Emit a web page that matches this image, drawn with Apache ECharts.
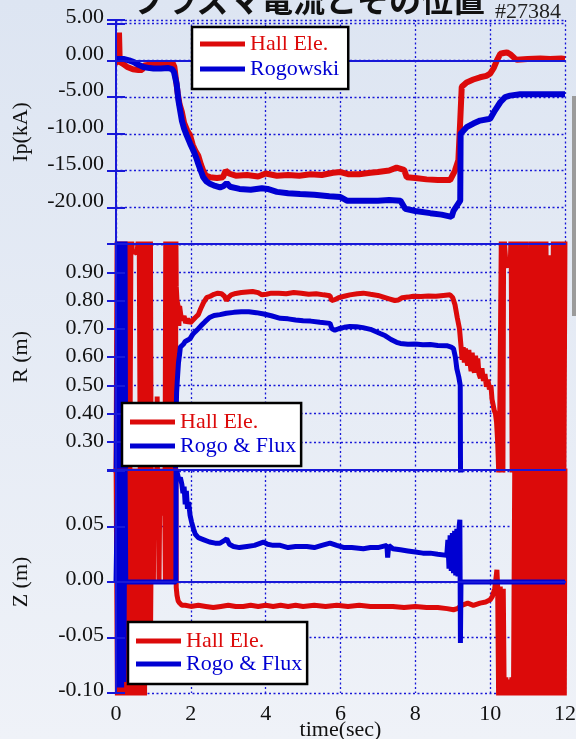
<!DOCTYPE html>
<html>
<head>
<meta charset="utf-8">
<script src="https://cdn.jsdelivr.net/npm/echarts@6/dist/echarts.min.js"></script>
<style>
  html, body { margin: 0; padding: 0; background: #e6ecf6; }
  #chart { width: 576px; height: 739px; }
</style>
</head>
<body>
<div id="chart"></div>
<script>
// ---- tick labels ----
const timeTicks = [0, 2, 4, 6, 8, 10, 12];
const ipTicks = [5, 0, -5, -10, -15, -20];
const rTicks = [0.9, 0.8, 0.7, 0.6, 0.5, 0.4, 0.3];
const zTicks = [0.05, 0, -0.05, -0.10];

// ---- plasma current Ip (kA), [time(sec), value] ----
const ipHall = [
  [0.00,-0.2],[0.06,-0.3],[0.08,3.8],[0.10,-0.2],[0.20,-0.5],[0.30,-0.9],[0.45,-1.2],[0.60,-1.3],
  [0.70,-1.3],[0.75,-0.7],[0.90,-0.6],[1.10,-0.6],[1.30,-0.5],[1.45,-0.5],[1.52,-0.4],[1.56,-0.9],
  [1.60,-2.5],[1.65,-4.5],[1.70,-6.0],[1.76,-7.0],[1.82,-8.5],[1.90,-9.5],[1.98,-10.2],[2.05,-11.5],
  [2.12,-12.3],[2.20,-13.0],[2.27,-14.2],[2.33,-15.0],[2.40,-15.7],[2.51,-15.9],[2.70,-16.0],[2.86,-15.9],
  [2.93,-15.0],[2.97,-14.8],[3.02,-15.4],[3.20,-15.7],[3.50,-15.6],[3.80,-15.8],[4.00,-15.4],[4.30,-15.7],
  [4.60,-15.6],[4.90,-15.7],[5.20,-15.5],[5.50,-15.6],[5.80,-15.3],[6.00,-15.2],[6.20,-15.5],[6.50,-15.5],
  [6.80,-15.3],[7.00,-15.2],[7.30,-15.0],[7.50,-14.6],[7.70,-14.9],[7.77,-15.9],[8.00,-16.0],[8.30,-16.2],
  [8.60,-16.3],[8.93,-16.3],[9.06,-15.0],[9.15,-13.6],[9.20,-8.2],[9.24,-3.6],[9.37,-3.0],[9.55,-2.6],
  [9.73,-2.3],[9.90,-2.1],[10.00,-1.8],[10.10,-1.0],[10.18,0.0],[10.27,0.9],[10.36,1.0],[10.45,1.1],
  [10.55,0.8],[10.65,0.3],[10.71,0.1],[11.00,0.2],[11.34,0.25],[11.60,0.2],[11.90,0.25],[12.00,0.2]
];
const ipRogowski = [
  [0.00,0.2],[0.20,0.2],[0.35,0.0],[0.46,-0.2],[0.60,-0.6],[0.73,-0.9],[0.90,-1.05],[1.00,-1.1],
  [1.20,-1.1],[1.40,-1.05],[1.50,-1.2],[1.55,-1.6],[1.62,-3.2],[1.67,-5.5],[1.72,-7.0],[1.76,-8.2],
  [1.82,-9.3],[1.89,-10.2],[1.98,-11.3],[2.07,-12.3],[2.14,-13.2],[2.20,-14.1],[2.27,-15.1],[2.33,-15.9],
  [2.42,-16.5],[2.51,-16.8],[2.65,-17.1],[2.78,-17.3],[2.88,-17.1],[2.96,-16.7],[3.05,-17.2],[3.30,-17.5],
  [3.60,-17.6],[3.90,-17.4],[4.05,-17.5],[4.30,-17.9],[4.60,-18.1],[4.92,-18.2],[5.30,-18.3],[5.70,-18.5],
  [6.00,-18.6],[6.17,-19.1],[6.60,-19.1],[7.00,-19.1],[7.30,-19.0],[7.60,-19.1],[7.73,-20.2],[8.00,-20.5],
  [8.40,-20.8],[8.70,-21.0],[8.97,-21.3],[9.02,-20.5],[9.20,-19.1],[9.21,-10.0],[9.37,-9.1],[9.55,-8.6],
  [9.73,-8.2],[10.00,-7.95],[10.13,-6.8],[10.27,-5.7],[10.40,-5.0],[10.53,-4.8],[10.80,-4.6],[12.00,-4.6]
];

// ---- major radius R (m) ----
const rHall = [
  [0.00,0.15],[0.03,1.05],[0.07,0.15],[0.11,1.05],[0.15,0.15],[0.19,1.05],[0.23,0.15],[0.27,1.05],
  [0.31,0.15],[0.34,1.05],[0.37,0.15],[0.40,1.05],
  [0.44,0.97],[0.50,0.975],[0.56,0.965],[0.62,1.05],[0.65,0.15],[0.68,1.05],[0.71,0.15],[0.74,1.05],
  [0.77,0.15],[0.80,1.05],[0.83,0.15],[0.86,1.05],[0.89,0.15],[0.92,1.05],[0.94,0.15],[0.95,0.10],
  [1.09,0.10],[1.10,0.46],[1.11,0.10],[1.31,0.10],
  [1.33,1.05],[1.36,0.15],[1.39,1.05],[1.42,0.15],[1.45,1.05],[1.48,0.15],[1.51,1.05],[1.54,0.15],
  [1.57,1.05],[1.59,0.15],[1.60,1.05],
  [1.61,0.85],[1.63,0.80],[1.66,0.78],[1.68,0.71],[1.70,0.78],[1.73,0.75],[1.77,0.73],[1.82,0.745],
  [1.86,0.72],[1.92,0.735],[1.98,0.72],[2.05,0.73],[2.12,0.74],[2.20,0.75],[2.26,0.77],[2.33,0.79],
  [2.42,0.81],[2.52,0.815],[2.62,0.822],[2.72,0.826],[2.82,0.824],[2.90,0.815],[2.95,0.80],[3.00,0.81],
  [3.08,0.82],[3.20,0.825],[3.35,0.828],[3.50,0.83],[3.65,0.832],[3.80,0.828],[3.90,0.82],[3.95,0.815],
  [4.02,0.822],[4.15,0.826],[4.35,0.826],[4.55,0.824],[4.75,0.828],[4.95,0.826],[5.15,0.822],[5.35,0.824],
  [5.55,0.82],[5.72,0.817],[5.76,0.80],[5.85,0.803],[5.95,0.81],[6.10,0.815],[6.25,0.82],[6.45,0.824],
  [6.61,0.826],[6.80,0.822],[7.00,0.818],[7.15,0.812],[7.30,0.806],[7.45,0.80],[7.55,0.802],[7.65,0.81],
  [7.80,0.812],[7.95,0.815],[8.15,0.814],[8.35,0.816],[8.55,0.815],[8.75,0.818],[8.93,0.82],[9.00,0.81],
  [9.06,0.785],[9.12,0.74],[9.18,0.70],[9.22,0.64],[9.25,0.59],[9.28,0.635],[9.31,0.58],[9.34,0.63],
  [9.37,0.59],[9.40,0.57],[9.43,0.625],[9.46,0.58],[9.49,0.55],[9.52,0.615],[9.55,0.56],[9.58,0.545],
  [9.61,0.605],[9.64,0.55],[9.67,0.595],[9.70,0.54],[9.74,0.525],[9.78,0.56],[9.82,0.515],[9.86,0.54],
  [9.90,0.495],[9.94,0.52],[9.98,0.485],[10.02,0.50],[10.05,0.45],[10.08,0.43],[10.11,0.41],[10.14,0.40],
  [10.17,0.37],[10.20,0.30],[10.24,0.15],[10.30,1.05],[10.34,0.15],[10.36,1.05],[10.42,0.93],[10.48,0.92],
  [10.54,0.935],[10.56,1.05],[10.59,0.15],[10.63,1.05],[10.67,0.15],[10.71,1.05],[10.75,0.15],[10.79,1.05],
  [10.83,0.15],[10.87,1.05],[10.91,0.15],[10.95,1.05],[10.99,0.15],[11.02,0.98],[11.05,0.15],[11.09,1.05],
  [11.13,0.15],[11.17,1.05],[11.21,0.15],[11.25,1.05],[11.29,0.15],[11.33,1.05],[11.37,0.15],[11.41,1.05],
  [11.45,0.15],[11.49,1.05],[11.53,0.15],[11.56,0.96],[11.59,0.15],[11.62,0.95],[11.65,0.15],[11.69,1.05],
  [11.73,0.15],[11.77,1.05],[11.81,0.15],[11.85,1.05],[11.89,0.15],[11.93,1.05],[11.97,0.15],[12.00,1.05]
];
const rRogoFlux = [
  [0.00,0.10],[0.05,0.10],[0.06,1.05],[0.09,0.15],[0.12,1.05],[0.15,0.15],[0.18,1.05],[0.21,0.15],
  [0.24,1.05],[0.26,0.10],[1.58,0.10],[1.61,0.42],[1.62,0.475],[1.64,0.52],[1.67,0.58],[1.70,0.61],
  [1.72,0.635],[1.76,0.64],[1.80,0.645],[1.85,0.655],[1.92,0.66],[1.98,0.665],[2.05,0.68],[2.12,0.69],
  [2.20,0.70],[2.28,0.712],[2.38,0.725],[2.50,0.74],[2.62,0.747],[2.78,0.75],[2.95,0.755],[3.15,0.758],
  [3.35,0.76],[3.55,0.76],[3.75,0.757],[3.95,0.752],[4.15,0.746],[4.39,0.737],[4.60,0.735],[4.80,0.731],
  [5.00,0.728],[5.20,0.727],[5.45,0.723],[5.72,0.719],[5.77,0.70],[5.85,0.695],[5.95,0.70],[6.10,0.705],
  [6.25,0.708],[6.43,0.707],[6.60,0.704],[6.80,0.698],[7.06,0.683],[7.20,0.675],[7.35,0.662],[7.50,0.652],
  [7.60,0.648],[7.80,0.645],[8.00,0.646],[8.20,0.643],[8.40,0.644],[8.60,0.641],[8.84,0.64],[8.96,0.635],
  [9.02,0.63],[9.07,0.60],[9.11,0.558],[9.16,0.53],[9.20,0.50],[9.21,0.10],[12.00,0.10]
];

// ---- vertical position Z (m) ----
const zHall = [
  [0.00,0.12],[0.04,-0.12],[0.08,0.12],[0.12,-0.12],[0.16,0.12],[0.20,-0.12],[0.24,0.12],[0.28,-0.12],
  [0.32,0.12],[0.36,-0.12],[0.40,0.12],[0.44,-0.12],[0.48,0.12],[0.52,-0.12],[0.56,0.12],[0.60,-0.12],
  [0.64,0.12],[0.68,-0.12],[0.72,0.12],[0.76,-0.12],[0.80,0.12],[0.84,-0.09],[0.88,0.12],[0.92,-0.06],
  [0.96,0.12],[1.00,0.0],[1.02,0.12],[1.05,0.062],[1.10,0.062],[1.12,0.12],[1.15,0.0],[1.18,0.12],
  [1.21,0.062],[1.27,0.062],[1.29,0.12],[1.32,0.0],[1.36,0.12],[1.40,0.0],[1.44,0.12],[1.48,0.0],
  [1.52,0.12],[1.56,0.0],[1.60,0.12],[1.61,-0.005],[1.63,-0.012],[1.66,-0.017],[1.70,-0.019],[1.76,-0.021],
  [1.85,-0.021],[2.00,-0.022],[2.20,-0.021],[2.40,-0.022],[2.60,-0.023],[2.80,-0.022],[3.00,-0.021],[3.20,-0.022],
  [3.40,-0.022],[3.60,-0.021],[3.80,-0.022],[4.00,-0.021],[4.20,-0.022],[4.40,-0.021],[4.60,-0.022],[4.80,-0.021],
  [5.00,-0.022],[5.30,-0.021],[5.60,-0.022],[5.90,-0.021],[6.20,-0.022],[6.50,-0.021],[6.80,-0.022],[7.10,-0.022],
  [7.40,-0.022],[7.70,-0.023],[8.00,-0.022],[8.30,-0.023],[8.60,-0.023],[8.85,-0.024],[9.02,-0.025],[9.12,-0.024],
  [9.24,-0.021],[9.40,-0.019],[9.55,-0.021],[9.73,-0.019],[9.88,-0.018],[10.00,-0.016],[10.06,-0.013],[10.12,-0.006],
  [10.15,0.002],[10.18,0.011],[10.20,-0.004],[10.23,-0.12],[10.27,-0.004],[10.31,-0.12],[10.35,-0.006],[10.38,-0.12],
  [10.42,-0.086],[10.46,-0.12],[10.50,-0.088],[10.54,-0.12],[10.58,-0.086],[10.62,-0.12],[10.66,0.12],[10.70,-0.12],
  [10.74,0.12],[10.78,-0.12],[10.82,0.12],[10.86,-0.12],[10.90,0.12],[10.94,-0.12],[10.98,0.12],[11.02,-0.12],
  [11.06,0.12],[11.10,-0.12],[11.14,0.12],[11.18,-0.12],[11.22,0.12],[11.26,-0.12],[11.30,0.12],[11.34,-0.12],
  [11.38,0.12],[11.42,-0.12],[11.46,0.12],[11.50,-0.12],[11.54,0.12],[11.58,-0.12],[11.62,0.12],[11.66,-0.12],
  [11.70,0.12],[11.74,-0.12],[11.78,0.12],[11.82,-0.12],[11.86,0.12],[11.90,-0.12],[11.94,0.12],[11.98,-0.12],
  [12.00,0.12]
];
const zRogoFlux = [
  [0.00,0.0],[0.05,0.0],[0.06,0.12],[0.09,-0.095],[0.12,0.12],[0.15,-0.095],[0.18,0.12],[0.21,-0.09],
  [0.24,0.12],[0.26,0.0],[1.60,0.0],[1.605,0.10],[1.64,0.098],[1.68,0.092],[1.72,0.094],[1.76,0.088],
  [1.79,0.08],[1.82,0.086],[1.85,0.07],[1.88,0.082],[1.91,0.066],[1.94,0.072],[1.98,0.06],[2.02,0.054],
  [2.07,0.048],[2.12,0.043],[2.20,0.040],[2.35,0.038],[2.50,0.036],[2.65,0.035],[2.78,0.035],[2.88,0.037],
  [2.96,0.039],[3.03,0.034],[3.14,0.032],[3.30,0.031],[3.50,0.032],[3.70,0.033],[3.94,0.036],[4.05,0.034],
  [4.20,0.033],[4.39,0.033],[4.60,0.031],[4.80,0.032],[5.10,0.032],[5.30,0.031],[5.50,0.033],[5.72,0.035],
  [5.90,0.033],[6.10,0.031],[6.30,0.031],[6.61,0.030],[6.80,0.031],[7.00,0.031],[7.24,0.033],[7.26,0.022],
  [7.29,0.033],[7.40,0.030],[7.60,0.029],[7.80,0.028],[8.00,0.027],[8.20,0.026],[8.40,0.026],[8.60,0.025],
  [8.84,0.024],[8.87,0.038],[8.90,0.012],[8.93,0.042],[8.96,0.010],[8.99,0.044],[9.02,0.008],[9.05,0.046],
  [9.08,0.006],[9.11,0.048],[9.14,0.005],[9.17,0.050],[9.19,0.056],[9.205,-0.055],[9.22,0.0],[12.00,0.0]
];

const RED = '#dc0a0a';
const BLUE = '#0000d2';
const AXIS_BLUE = '#1818d8';
const SERIF = "'Liberation Serif', 'Times New Roman', serif";

// labelLift: how far the tick label text sits above its grid line
const panels = [
  { grid: { left: 116, top: 20, width: 449, height: 224 }, min: -25, max: 5.5, interval: 5,
    ticks: ipTicks, name: 'Ip(kA)', labelLift: 6.5,
    series: [['Hall Ele.', ipHall, RED, 6], ['Rogowski', ipRogowski, BLUE, 6]] },
  { grid: { left: 116, top: 244, width: 449, height: 226 }, min: 0.2, max: 1.0, interval: 0.1,
    ticks: rTicks, name: 'R (m)', labelLift: 0.5,
    series: [['Hall Ele.', rHall, RED, 5], ['Rogo & Flux', rRogoFlux, BLUE, 5]] },
  { grid: { left: 116, top: 471, width: 449, height: 222 }, min: -0.1, max: 0.1, interval: 0.05,
    ticks: zTicks, name: 'Z (m)', labelLift: 2.5,
    series: [['Hall Ele.', zHall, RED, 5], ['Rogo & Flux', zRogoFlux, BLUE, 5]] }
];

const dotted = { color: AXIS_BLUE, width: 1.3, type: [2, 2.5] };
const frameLine = { show: true, lineStyle: { color: AXIS_BLUE, width: 2 } };
const innerTick = { show: true, inside: true, length: 9, lineStyle: { color: AXIS_BLUE, width: 2 } };
const hasTick = (list, v) => list.some(t => Math.abs(t - v) < 1e-6);

const grid = [], xAxis = [], yAxis = [], series = [];
panels.forEach((p, i) => {
  // fixed pixel frame for each panel, independent of label extents
  grid.push(Object.assign({ show: false, containLabel: false, outerBoundsMode: 'none' }, p.grid));
  const isLast = i === panels.length - 1;
  // base time axis: dotted verticals and labels
  xAxis.push({
    gridIndex: i, type: 'value', min: 0, max: 12, interval: 2, z: 1,
    axisLine: { show: false }, axisTick: { show: false },
    splitLine: { show: true, lineStyle: dotted },
    axisLabel: {
      show: isLast, margin: 10, fontSize: 22, fontFamily: SERIF, color: '#111',
      formatter: v => hasTick(timeTicks, v) ? String(v) : ''
    },
    name: isLast ? 'time(sec)' : '', nameLocation: 'middle', nameGap: 26, nameMoveOverlap: false,
    nameTextStyle: { fontSize: 22, fontFamily: SERIF, color: '#111' }
  });
  // frame lines drawn over the traces
  xAxis.push({ gridIndex: i, type: 'value', min: 0, max: 12, interval: 2, z: 6, position: 'bottom',
    axisLine: frameLine, axisTick: { show: false }, splitLine: { show: false }, axisLabel: { show: false } });
  xAxis.push({ gridIndex: i, type: 'value', min: 0, max: 12, interval: 2, z: 6, position: 'top',
    axisLine: frameLine, axisTick: { show: false }, splitLine: { show: false }, axisLabel: { show: false } });

  yAxis.push({
    gridIndex: i, type: 'value', min: p.min, max: p.max, interval: p.interval, z: 1, position: 'left',
    axisLine: { show: false }, axisTick: { show: false },
    splitLine: { show: true, lineStyle: dotted },
    axisLabel: {
      margin: 12, fontSize: 22, fontFamily: SERIF, color: '#111',
      verticalAlign: 'bottom', lineHeight: p.labelLift * 2,
      formatter: v => hasTick(p.ticks, v) ? v.toFixed(2) : ''
    },
    name: p.name, nameLocation: 'middle', nameGap: 84, nameMoveOverlap: false,
    nameTextStyle: { fontSize: 22, fontFamily: SERIF, color: '#111' }
  });
  yAxis.push({ gridIndex: i, type: 'value', min: p.min, max: p.max, interval: p.interval, z: 6, position: 'left',
    axisLine: frameLine, axisTick: innerTick, splitLine: { show: false }, axisLabel: { show: false } });
  yAxis.push({ gridIndex: i, type: 'value', min: p.min, max: p.max, interval: p.interval, z: 6, position: 'right',
    axisLine: frameLine, axisTick: innerTick, splitLine: { show: false }, axisLabel: { show: false } });

  p.series.forEach(([name, data, color, width]) => {
    series.push({
      name, type: 'line', data, xAxisIndex: i * 3, yAxisIndex: i * 3,
      symbol: 'none', showSymbol: false, clip: true,
      color, lineStyle: { color, width, join: 'bevel', cap: 'butt' },
      emphasis: { disabled: true }, silent: true
    });
  });
});

const legendBase = {
  orient: 'vertical', icon: 'rect', itemWidth: 45, itemHeight: 5,
  backgroundColor: '#ffffff', borderColor: '#000000', borderWidth: 2.5, borderRadius: 0,
  selectedMode: false, z: 10,
  textStyle: { fontSize: 22, fontFamily: SERIF, lineHeight: 22 }
};
const legend = [
  Object.assign({}, legendBase, { left: 192, top: 27, itemGap: 3, padding: [6, 9, 9, 8],
    data: [{ name: 'Hall Ele.', textStyle: { color: RED } }, { name: 'Rogowski', textStyle: { color: BLUE } }] }),
  Object.assign({}, legendBase, { left: 122, top: 403, itemGap: 2, padding: [8, 5, 9, 8],
    data: [{ name: 'Hall Ele.', textStyle: { color: RED } }, { name: 'Rogo & Flux', textStyle: { color: BLUE } }] }),
  Object.assign({}, legendBase, { left: 128, top: 622, itemGap: 1, padding: [8, 5, 9, 8],
    data: [{ name: 'Hall Ele.', textStyle: { color: RED } }, { name: 'Rogo & Flux', textStyle: { color: BLUE } }] })
];

const chart = echarts.init(document.getElementById('chart'), null, { renderer: 'canvas' });
chart.setOption({
  animation: false,
  backgroundColor: {
    type: 'linear', x: 0, y: 0, x2: 0, y2: 1,
    colorStops: [{ offset: 0, color: '#dde5f2' }, { offset: 1, color: '#eff2f8' }]
  },
  title: [
    { text: 'プラズマ電流とその位置', left: 128, top: -21,
      textStyle: { fontSize: 32, fontWeight: 'bold', color: '#111', fontFamily: "'Noto Sans CJK JP', sans-serif" } },
    { text: '#27384', right: 10, top: -4,
      textStyle: { fontSize: 22, fontWeight: 'normal', color: '#222', fontFamily: SERIF } }
  ],
  graphic: [
    { type: 'rect', shape: { x: 572, y: 96, width: 4, height: 220 }, style: { fill: '#9b9b9b' }, silent: true }
  ],
  legend, grid, xAxis, yAxis, series
});
</script>
</body>
</html>
